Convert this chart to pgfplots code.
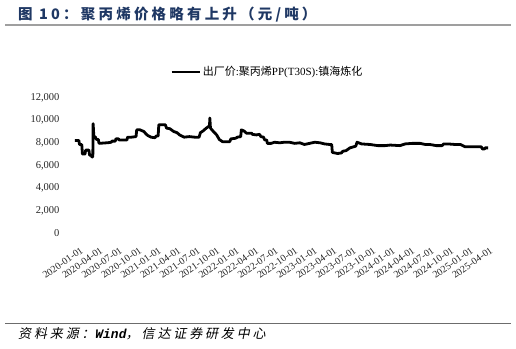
\documentclass[border=0pt]{standalone}
\usepackage{fontspec}
\setmainfont{Liberation Serif}
\newfontfamily\cjk{Noto Sans CJK SC}
\newfontfamily\cjktitle[LetterSpace=22]{Noto Sans CJK SC}
\newfontfamily\cjksrc[LetterSpace=22,FakeSlant=0.2]{Noto Sans CJK SC}
\newfontfamily\srclat[FakeSlant=0.2]{Liberation Mono}
\usepackage{pgfplots}
\pgfplotsset{compat=1.18}
\definecolor{titleblue}{RGB}{31,56,100}
\begin{document}
\begin{tikzpicture}[x=1pt,y=1pt]
\useasboundingbox (0,0) rectangle (516,348);
% title
\node[anchor=base west,inner sep=0pt,text=titleblue] at (18,328.5) {\cjktitle\bfseries\fontsize{14.5}{16}\selectfont 图 10：聚丙烯价格略有上升（元/吨）};
\draw[gray!75,line width=1.3pt] (5,323) -- (511,323);
% source
\draw[gray!85!black,line width=1.5pt] (5,24.7) -- (511,24.7);
\node[anchor=base west,inner sep=0pt] at (18,9.5) {\fontsize{13}{15}\selectfont{\cjksrc 资料来源：}{\srclat\bfseries Wind}{\cjksrc ，信达证券研发中心}};
\begin{axis}[
  at={(73pt,115pt)}, anchor=south west,
  scale only axis, width=416pt, height=135.3pt,
  xmin=0, xmax=64, ymin=0, ymax=12000,
  clip=false,
  axis line style={draw=none},
  major tick length=0pt,
  xtick={0,3,...,63},
  xticklabels={2020-01-01,2020-04-01,2020-07-01,2020-10-01,2021-01-01,2021-04-01,2021-07-01,2021-10-01,2022-01-01,2022-04-01,2022-07-01,2022-10-01,2023-01-01,2023-04-01,2023-07-01,2023-10-01,2024-01-01,2024-04-01,2024-07-01,2024-10-01,2025-01-01,2025-04-01},
  xticklabel style={rotate=35, anchor=north east, font=\fontsize{10}{12}\selectfont, text=black!85, inner sep=0pt, yshift=-15pt, xshift=-2pt},
  ytick={0,2000,...,12000},
  scaled y ticks=false,
  yticklabel style={font=\fontsize{10.5}{12}\selectfont, text=black!85, xshift=-10pt},
  /pgf/number format/.cd, 1000 sep={,}, assume math mode=true,
  /pgfplots/.cd,
  legend style={at={(0.467,1.19)}, anchor=center, draw=none, fill=none, font=\fontsize{11}{13}\selectfont, inner sep=0pt},
  legend image code/.code={\draw[#1] (0pt,0pt) -- (28pt,0pt);},
]
\addplot[black, line width=2.8pt, line join=round] coordinates {
(0.3,8200) (0.9,8200) (1.0,7850) (1.35,7850) (1.45,7000) (1.85,7000) (1.95,7350) (2.45,7350) (2.55,6900) (2.8,6900) (2.9,6750) (3.05,6750) (3.1,9700) (3.2,8600) (3.45,8500) (3.6,8300) (3.9,8300) (4.0,7950) (5.2,8000) (5.3,8000) (5.9,8050) (6.0,8150) (6.5,8150) (6.6,8350) (7.0,8350) (7.1,8250) (8.3,8250) (8.4,8500) (9.0,8500) (9.7,8550) (9.8,9150) (10.3,9150) (10.9,9000) (11.3,8750) (11.5,8650) (12.0,8500) (12.6,8450) (12.8,8600) (13.1,8600) (13.2,9600) (14.2,9600) (14.4,9300) (14.9,9250) (15.5,9000) (16.0,8900) (16.4,8700) (17.1,8500) (17.9,8550) (18.7,8500) (19.4,8500) (19.6,8900) (20.0,9050) (20.5,9300) (21.0,9500) (21.05,10200) (21.15,9300) (21.6,9000) (22.1,8700) (22.5,8300) (23.0,8100) (24.1,8100) (24.3,8350) (25.0,8400) (25.3,8500) (25.8,8550) (25.9,9150) (26.3,9050) (26.7,8850) (27.5,8850) (27.6,8750) (28.2,8700) (28.7,8750) (28.9,8550) (29.3,8500) (29.5,8250) (29.8,8250) (29.9,7950) (30.5,7950) (31.0,8050) (31.8,8000) (32.5,8050) (33.3,8050) (34.1,7950) (34.9,8000) (35.6,7850) (36.4,7950) (37.2,8050) (38.0,8000) (38.7,7900) (39.5,7850) (39.8,7850) (39.9,7150) (40.7,7050) (41.3,7100) (41.5,7250) (42.0,7300) (42.6,7550) (43.2,7650) (43.5,7700) (43.7,8050) (44.4,7900) (45.7,7850) (46.9,7750) (48.0,7750) (48.8,7800) (50.3,7750) (51.1,7900) (52.2,7950) (53.4,7950) (54.2,7850) (54.9,7850) (55.9,7750) (56.8,7750) (57.0,7900) (57.7,7900) (58.8,7850) (59.6,7850) (60.3,7650) (61.9,7650) (62.8,7650) (63.0,7450) (63.3,7450) (63.4,7550) (63.85,7550)
};
\addlegendentry{{\cjk 出厂价}:{\cjk 聚丙烯}PP(T30S):{\cjk 镇海炼化}}
\end{axis}
\end{tikzpicture}
\end{document}
